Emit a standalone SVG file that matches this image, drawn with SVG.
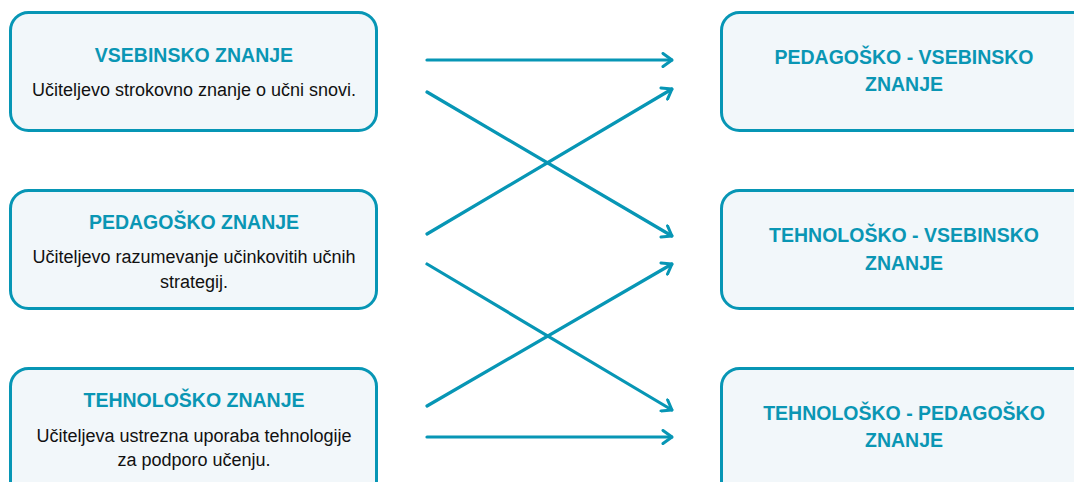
<svg xmlns="http://www.w3.org/2000/svg" width="1074" height="482" viewBox="0 0 1074 482">
  <defs>
    <style>
      .box { fill: #F2F7FA; stroke: #0796B5; stroke-width: 3; }
      .title { font-family: "Liberation Sans", Arial, sans-serif; font-weight: bold; font-size: 19.5px; fill: #0A96B4; text-anchor: middle; }
      .body { font-family: "Liberation Sans", Arial, sans-serif; font-size: 18px; fill: #111; text-anchor: middle; }
      .link { stroke: #0796B5; stroke-width: 3.2; fill: none; stroke-linecap: round; marker-end: url(#chev); }
    </style>
    <marker id="chev" viewBox="0 0 12 16" refX="11" refY="8" markerWidth="12" markerHeight="16" markerUnits="userSpaceOnUse" orient="auto">
      <path d="M2,1.5 L11,8 L2,14.5" fill="none" stroke="#0796B5" stroke-width="3" stroke-linecap="round" stroke-linejoin="round"/>
    </marker>
  </defs>
  <rect width="1074" height="482" fill="#FFFFFF"/>

  <g id="vsebinsko">
    <rect class="box" x="10.5" y="12.5" width="366" height="118" rx="18"/>
    <text class="title" x="194" y="62">VSEBINSKO ZNANJE</text>
    <text class="body" x="194" y="96">Učiteljevo strokovno znanje o učni snovi.</text>
  </g>
  <g id="pedagosko">
    <rect class="box" x="10.5" y="190.5" width="366" height="118" rx="18"/>
    <text class="title" x="194" y="229">PEDAGOŠKO ZNANJE</text>
    <text class="body" x="194" y="263">Učiteljevo razumevanje učinkovitih učnih</text>
    <text class="body" x="194" y="288">strategij.</text>
  </g>
  <g id="tehnolosko">
    <rect class="box" x="10.5" y="368.5" width="366" height="130" rx="18"/>
    <text class="title" x="194" y="407">TEHNOLOŠKO ZNANJE</text>
    <text class="body" x="194" y="442">Učiteljeva ustrezna uporaba tehnologije</text>
    <text class="body" x="194" y="466">za podporo učenju.</text>
  </g>

  <g id="pedagosko-vsebinsko">
    <rect class="box" x="721.5" y="12.5" width="380" height="118" rx="18"/>
    <text class="title" x="904" y="64">PEDAGOŠKO - VSEBINSKO</text>
    <text class="title" x="904" y="91">ZNANJE</text>
  </g>
  <g id="tehnolosko-vsebinsko">
    <rect class="box" x="721.5" y="190.5" width="380" height="118" rx="18"/>
    <text class="title" x="904" y="242">TEHNOLOŠKO - VSEBINSKO</text>
    <text class="title" x="904" y="270">ZNANJE</text>
  </g>
  <g id="tehnolosko-pedagosko">
    <rect class="box" x="721.5" y="368.5" width="380" height="130" rx="18"/>
    <text class="title" x="904" y="420">TEHNOLOŠKO - PEDAGOŠKO</text>
    <text class="title" x="904" y="447">ZNANJE</text>
  </g>

  <g id="connectors">
    <line class="link" x1="427" y1="60" x2="672" y2="60"/>
    <line class="link" x1="427" y1="92" x2="672" y2="236"/>
    <line class="link" x1="427" y1="234" x2="672" y2="89"/>
    <line class="link" x1="427" y1="264" x2="672" y2="410"/>
    <line class="link" x1="427" y1="406" x2="672" y2="264"/>
    <line class="link" x1="427" y1="437" x2="672" y2="437"/>
  </g>
</svg>
